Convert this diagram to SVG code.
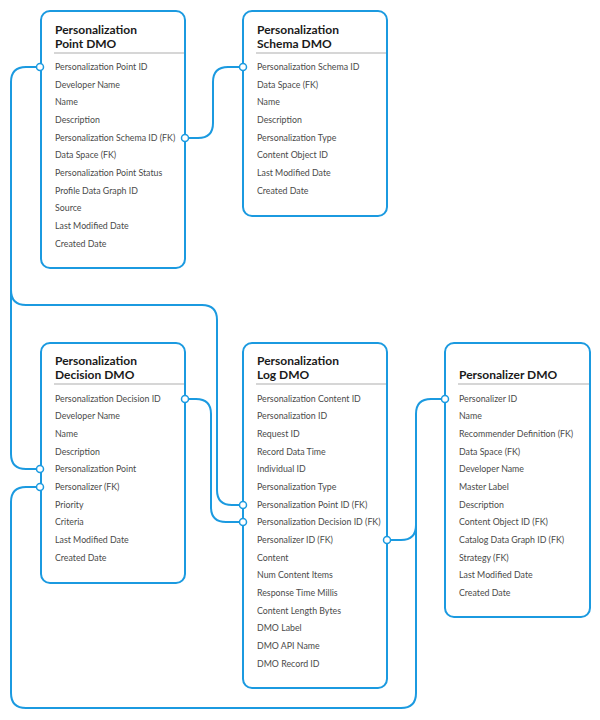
<svg xmlns="http://www.w3.org/2000/svg" width="600" height="720" viewBox="0 0 600 720">
<style>
.box{fill:#fff;stroke:#1b9ae0;stroke-width:2}
.sep{stroke:#c9c9c9;stroke-width:1.5}
.t{font-family:Lato,"Open Sans",sans-serif;font-size:12px;font-weight:700;fill:#1a1a1a}
.r{font-family:Lato,"Open Sans",sans-serif;font-size:8.8px;fill:#4a4a4a}
.c{fill:none;stroke:#1b9ae0;stroke-width:2}
.d{fill:#fff;stroke:#1b9ae0;stroke-width:1.5}
</style>
<rect width="600" height="720" fill="#fff"/>
<g id="connectors">
<path class="c" d="M40,67 H26 Q11,67 11,82 V454 Q11,469 26,469 H40"/>
<path class="c" d="M11,290 Q11,305 26,305 H202 Q217,305 217,320 V490 Q217,505 232,505 H243"/>
<path class="c" d="M185,138 H198 Q213,138 213,123 V82 Q213,67 228,67 H243"/>
<path class="c" d="M185,399 H196 Q211,399 211,414 V507 Q211,522 226,522 H243"/>
<path class="c" d="M40,487 H26 Q11,487 11,502 V693 Q11,708 26,708 H401 Q416,708 416,693 V414 Q416,399 431,399 H445"/>
<path class="c" d="M387,540 H401 Q416,540 416,525"/>
</g>
<g id="point">
<rect class="box" x="41" y="11" width="144" height="257" rx="9"/>
<text class="t" x="55" y="33.5">Personalization</text>
<text class="t" x="55" y="47.5">Point DMO</text>
<line class="sep" x1="54" y1="53" x2="184" y2="53"/>
<text class="r" x="55" y="70">Personalization Point ID</text>
<text class="r" x="55" y="87.5">Developer Name</text>
<text class="r" x="55" y="105">Name</text>
<text class="r" x="55" y="123">Description</text>
<text class="r" x="55" y="140.5">Personalization Schema ID (FK)</text>
<text class="r" x="55" y="158">Data Space (FK)</text>
<text class="r" x="55" y="176">Personalization Point Status</text>
<text class="r" x="55" y="193.5">Profile Data Graph ID</text>
<text class="r" x="55" y="211">Source</text>
<text class="r" x="55" y="229">Last Modified Date</text>
<text class="r" x="55" y="246.5">Created Date</text>
</g>
<g id="schema">
<rect class="box" x="243" y="11" width="144" height="205" rx="9"/>
<text class="t" x="257" y="33.5">Personalization</text>
<text class="t" x="257" y="47.5">Schema DMO</text>
<line class="sep" x1="256" y1="53" x2="386" y2="53"/>
<text class="r" x="257" y="70">Personalization Schema ID</text>
<text class="r" x="257" y="87.5">Data Space (FK)</text>
<text class="r" x="257" y="105">Name</text>
<text class="r" x="257" y="123">Description</text>
<text class="r" x="257" y="140.5">Personalization Type</text>
<text class="r" x="257" y="158">Content Object ID</text>
<text class="r" x="257" y="176">Last Modified Date</text>
<text class="r" x="257" y="193.5">Created Date</text>
</g>
<g id="decision">
<rect class="box" x="41" y="343" width="144" height="240" rx="9"/>
<text class="t" x="55" y="365">Personalization</text>
<text class="t" x="55" y="379">Decision DMO</text>
<line class="sep" x1="54" y1="384" x2="184" y2="384"/>
<text class="r" x="55" y="401.5">Personalization Decision ID</text>
<text class="r" x="55" y="419">Developer Name</text>
<text class="r" x="55" y="437">Name</text>
<text class="r" x="55" y="454.5">Description</text>
<text class="r" x="55" y="472">Personalization Point</text>
<text class="r" x="55" y="490">Personalizer (FK)</text>
<text class="r" x="55" y="507.5">Priority</text>
<text class="r" x="55" y="525">Criteria</text>
<text class="r" x="55" y="543">Last Modified Date</text>
<text class="r" x="55" y="560.5">Created Date</text>
</g>
<g id="log">
<rect class="box" x="243" y="343" width="144" height="345" rx="9"/>
<text class="t" x="257" y="365">Personalization</text>
<text class="t" x="257" y="379">Log DMO</text>
<line class="sep" x1="256" y1="384" x2="386" y2="384"/>
<text class="r" x="257" y="401.5">Personalization Content ID</text>
<text class="r" x="257" y="419">Personalization ID</text>
<text class="r" x="257" y="437">Request ID</text>
<text class="r" x="257" y="454.5">Record Data Time</text>
<text class="r" x="257" y="472">Individual ID</text>
<text class="r" x="257" y="490">Personalization Type</text>
<text class="r" x="257" y="507.5">Personalization Point ID (FK)</text>
<text class="r" x="257" y="525">Personalization Decision ID (FK)</text>
<text class="r" x="257" y="543">Personalizer ID (FK)</text>
<text class="r" x="257" y="560.5">Content</text>
<text class="r" x="257" y="578">Num Content Items</text>
<text class="r" x="257" y="596">Response Time Millis</text>
<text class="r" x="257" y="613.5">Content Length Bytes</text>
<text class="r" x="257" y="631">DMO Label</text>
<text class="r" x="257" y="649">DMO API Name</text>
<text class="r" x="257" y="666.5">DMO Record ID</text>
</g>
<g id="personalizer">
<rect class="box" x="445" y="343" width="145" height="274" rx="9"/>
<text class="t" x="459" y="378.5">Personalizer DMO</text>
<line class="sep" x1="458" y1="384" x2="589" y2="384"/>
<text class="r" x="459" y="401.5">Personalizer ID</text>
<text class="r" x="459" y="419">Name</text>
<text class="r" x="459" y="437">Recommender Definition (FK)</text>
<text class="r" x="459" y="454.5">Data Space (FK)</text>
<text class="r" x="459" y="472">Developer Name</text>
<text class="r" x="459" y="490">Master Label</text>
<text class="r" x="459" y="507.5">Description</text>
<text class="r" x="459" y="525">Content Object ID (FK)</text>
<text class="r" x="459" y="543">Catalog Data Graph ID (FK)</text>
<text class="r" x="459" y="560.5">Strategy (FK)</text>
<text class="r" x="459" y="578">Last Modified Date</text>
<text class="r" x="459" y="596">Created Date</text>
</g>
<g id="ports">
<circle class="d" cx="40" cy="67" r="3.5"/>
<circle class="d" cx="185" cy="138" r="3.5"/>
<circle class="d" cx="243" cy="67" r="3.5"/>
<circle class="d" cx="40" cy="469" r="3.5"/>
<circle class="d" cx="40" cy="487" r="3.5"/>
<circle class="d" cx="185" cy="399" r="3.5"/>
<circle class="d" cx="243" cy="505" r="3.5"/>
<circle class="d" cx="243" cy="522" r="3.5"/>
<circle class="d" cx="387" cy="540" r="3.5"/>
<circle class="d" cx="445" cy="399" r="3.5"/>
</g>
</svg>
